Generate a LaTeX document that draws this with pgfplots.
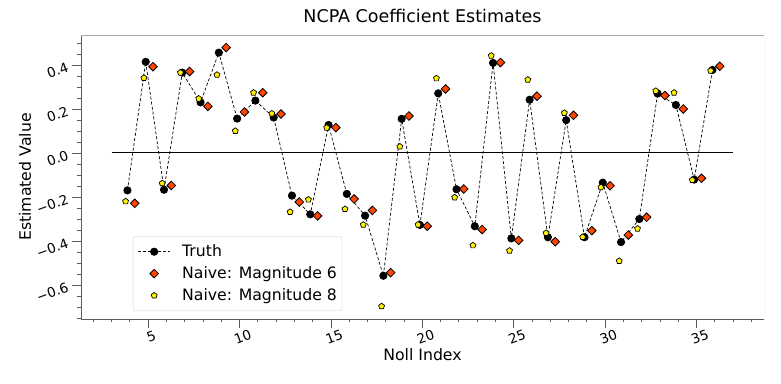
\documentclass[border=0pt]{standalone}
\usepackage{fontspec}
\setmainfont{DejaVu Sans}
\usepackage{pgfplots}
\usepackage{pgfplotstable}
\pgfplotsset{compat=1.18}
\usetikzlibrary{plotmarks}
\definecolor{orangered}{HTML}{FF4500}
\definecolor{spine}{HTML}{5A5A5A}
\definecolor{spinelight}{HTML}{A8A8A8}
\definecolor{legframe}{HTML}{D0D0D0}

\pgfplotstableread{
n truth mag6 mag8
4 -0.170 -0.229 -0.220
5 0.414 0.392 0.341
6 -0.167 -0.148 -0.138
7 0.365 0.370 0.365
8 0.230 0.212 0.247
9 0.456 0.479 0.355
10 0.156 0.186 0.100
11 0.238 0.274 0.274
12 0.161 0.177 0.179
13 -0.194 -0.223 -0.268
14 -0.279 -0.286 -0.212
15 0.127 0.115 0.115
16 -0.186 -0.209 -0.255
17 -0.285 -0.261 -0.326
18 -0.558 -0.544 -0.697
19 0.155 0.168 0.029
20 -0.327 -0.333 -0.326
21 0.271 0.291 0.339
22 -0.165 -0.164 -0.202
23 -0.333 -0.348 -0.420
24 0.409 0.411 0.442
25 -0.388 -0.397 -0.444
26 0.242 0.258 0.333
27 -0.383 -0.403 -0.364
28 0.149 0.171 0.182
29 -0.383 -0.353 -0.382
30 -0.135 -0.149 -0.156
31 -0.405 -0.373 -0.491
32 -0.300 -0.292 -0.344
33 0.270 0.261 0.282
34 0.218 0.200 0.274
35 -0.121 -0.115 -0.123
36 0.377 0.394 0.374
}\datatable

\begin{document}
\begin{tikzpicture}
\begin{axis}[
  scale only axis, width=683pt, height=284pt,
  xmin=1.33, xmax=38.69, ymin=-0.7545, ymax=0.536,
  axis x line*=bottom, axis y line*=left,
  axis line style={spine, line width=0.9pt},
  xtick={5,10,15,20,25,30,35}, xticklabels={5,10,15,20,25,30,35},
  minor xtick={2,3,4,6,7,8,9,11,12,13,14,16,17,18,19,21,22,23,24,26,27,28,29,31,32,33,34,36,37,38},
  ytick={-0.6,-0.4,-0.2,0,0.2,0.4}, yticklabels={−0.6,−0.4,−0.2,0.0,0.2,0.4},
  minor ytick={-0.75,-0.7,-0.65,-0.55,-0.5,-0.45,-0.35,-0.3,-0.25,-0.15,-0.1,-0.05,0.05,0.1,0.15,0.25,0.3,0.35,0.45,0.5},
  tick align=outside,
  major tick length=9pt, minor tick length=3.5pt,
  every tick/.style={spine, line width=0.8pt},
  xticklabel style={font=\fontsize{13.5}{15}\selectfont, rotate=20, anchor=north, yshift=-1pt},
  yticklabel style={font=\fontsize{13.5}{15}\selectfont, rotate=20, anchor=east, xshift=-1pt},
  xlabel={Noll Index},
  xlabel style={font=\fontsize{15.7}{18}\selectfont, at={(axis description cs:0.5,0)}, anchor=center, yshift=-36pt},
  ylabel={Estimated Value},
  every axis y label/.style={font=\fontsize{15.7}{18}\selectfont, at={(axis description cs:-0.082,0.5)}, anchor=center, rotate=90},
  title={NCPA Coefficient Estimates},
  title style={font=\fontsize{17.5}{20}\selectfont, at={(axis description cs:0.5,1)}, anchor=center, yshift=13pt},
  legend style={at={(axis description cs:0.0761,0.0282)}, anchor=south west,
    draw=legframe, fill=white, rounded corners=2pt,
    font=\fontsize{15.7}{18}\selectfont, row sep=4.5pt, inner xsep=3pt, inner ysep=6.5pt,
    cells={anchor=west}},
  legend image code/.code={\draw[mark repeat=2,mark phase=2] plot coordinates {(0pt,0pt)(16pt,0pt)(32pt,0pt)};
    \path[draw=none,fill=none] (-2pt,0pt) -- (42pt,0pt);},
]
\draw[spinelight, line width=0.9pt] (rel axis cs:0,1) -- (rel axis cs:1,1) -- (rel axis cs:1,0);
\addplot[black, line width=1pt, forget plot] coordinates {(3,0) (37,0)};
\addplot[black, line width=0.7pt, dash pattern=on 3pt off 2pt, mark=*, mark size=3.7pt, mark options={solid, fill=black}]
  table[x expr=\thisrow{n}-0.13, y=truth] {\datatable};
\addlegendentry{Truth}
\addplot[only marks, mark=square*, mark size=3.05pt, mark options={fill=orangered, draw=black, line width=0.8pt, rotate=45}]
  table[x expr=\thisrow{n}+0.27, y=mag6] {\datatable};
\addlegendentry{Naive: Magnitude 6}
\addplot[only marks, mark=pentagon*, mark size=3.1pt, mark options={fill=yellow, draw=black, line width=0.7pt}]
  table[x expr=\thisrow{n}-0.23, y=mag8] {\datatable};
\addlegendentry{Naive: Magnitude 8}
\end{axis}
\pgfresetboundingbox
\path[use as bounding box] ([shift={(-81pt,-65pt)}]current axis.south west) rectangle ([shift={(17pt,35pt)}]current axis.north east);
\end{tikzpicture}
\end{document}
